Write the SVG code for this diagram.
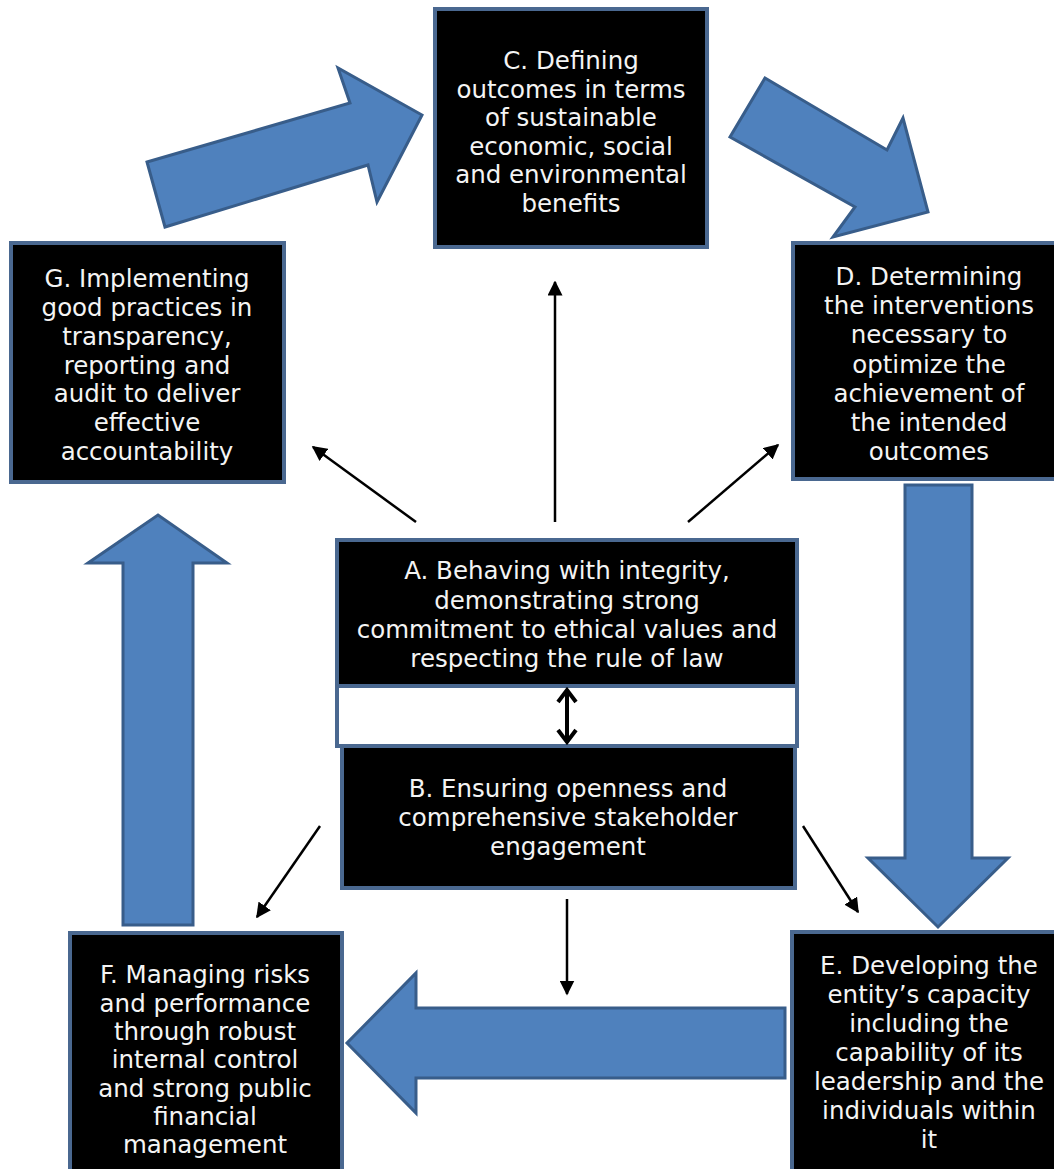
<svg xmlns="http://www.w3.org/2000/svg" width="1054" height="1169" viewBox="0 0 1054 1169">
<defs>
<style>
.box{fill:#000;stroke:#4a6890;stroke-width:4}
.gap{fill:#fff;stroke:#4a6890;stroke-width:4}
.big{fill:#4f81bd;stroke:#385d8a;stroke-width:3;stroke-linejoin:miter}
.lbl{font-family:"DejaVu Sans","Verdana",sans-serif;font-size:24.5px;fill:#f4f4f4;text-anchor:middle}
.thin{stroke:#000;stroke-width:2.5;fill:none}
</style>
<marker id="ah" viewBox="0 0 10 10" refX="9" refY="5" markerWidth="6" markerHeight="6" markerUnits="strokeWidth" orient="auto">
<path d="M0,0 L10,5 L0,10 z" fill="#000"/>
</marker>
</defs>
<rect width="1054" height="1169" fill="#fff"/>

<g id="cycle-arrows">
<polygon class="big" points="147,162 350,103 338,68 422,115 377,202 368,165 165,227"/>
<polygon class="big" points="765,78 887,150 903,118 928,212 833,237 855,207 730,137"/>
<polygon class="big" points="905,485 972,485 972,858 1008,858 938,927 868,858 905,858"/>
<polygon class="big" points="785,1008 416,1008 416,973 347,1043 416,1113 416,1078 785,1078"/>
<polygon class="big" points="123,925 123,563 88,563 158,515 227,563 193,563 193,925"/>
</g>

<g id="node-C">
<rect class="box" x="435" y="9" width="272" height="238"/>
<text class="lbl"><tspan x="571" y="69">C. Defining</tspan><tspan x="571" y="98">outcomes in terms</tspan><tspan x="571" y="126">of sustainable</tspan><tspan x="571" y="155">economic, social</tspan><tspan x="571" y="183">and environmental</tspan><tspan x="571" y="212">benefits</tspan></text>
</g>

<g id="node-G">
<rect class="box" x="11" y="243" width="273" height="239"/>
<text class="lbl"><tspan x="147" y="287">G. Implementing</tspan><tspan x="147" y="316">good practices in</tspan><tspan x="147" y="345">transparency,</tspan><tspan x="147" y="374">reporting and</tspan><tspan x="147" y="402">audit to deliver</tspan><tspan x="147" y="431">effective</tspan><tspan x="147" y="460">accountability</tspan></text>
</g>

<g id="node-D">
<rect class="box" x="793" y="243" width="280" height="236"/>
<text class="lbl"><tspan x="929" y="285">D. Determining</tspan><tspan x="929" y="314">the interventions</tspan><tspan x="929" y="343">necessary to</tspan><tspan x="929" y="373">optimize the</tspan><tspan x="929" y="402">achievement of</tspan><tspan x="929" y="431">the intended</tspan><tspan x="929" y="460">outcomes</tspan></text>
</g>

<g id="node-A">
<rect class="gap" x="337" y="540" width="460" height="206"/>
<rect class="box" x="337" y="540" width="460" height="146"/>
<text class="lbl"><tspan x="567" y="579">A. Behaving with integrity,</tspan><tspan x="567" y="609">demonstrating strong</tspan><tspan x="567" y="638">commitment to ethical values and</tspan><tspan x="567" y="667">respecting the rule of law</tspan></text>
</g>

<g id="node-B">
<rect class="box" x="342" y="746" width="453" height="142"/>
<text class="lbl"><tspan x="568" y="797">B. Ensuring openness and</tspan><tspan x="568" y="826">comprehensive stakeholder</tspan><tspan x="568" y="855">engagement</tspan></text>
</g>

<g id="node-F">
<rect class="box" x="70" y="933" width="272" height="250"/>
<text class="lbl"><tspan x="205" y="983">F. Managing risks</tspan><tspan x="205" y="1012">and performance</tspan><tspan x="205" y="1040">through robust</tspan><tspan x="205" y="1068">internal control</tspan><tspan x="205" y="1097">and strong public</tspan><tspan x="205" y="1125">financial</tspan><tspan x="205" y="1153">management</tspan></text>
</g>

<g id="node-E">
<rect class="box" x="792" y="932" width="280" height="250"/>
<text class="lbl"><tspan x="929" y="974">E. Developing the</tspan><tspan x="929" y="1003">entity’s capacity</tspan><tspan x="929" y="1032">including the</tspan><tspan x="929" y="1061">capability of its</tspan><tspan x="929" y="1090">leadership and the</tspan><tspan x="929" y="1119">individuals within</tspan><tspan x="929" y="1148">it</tspan></text>
</g>

<g id="connectors">
<line class="thin" x1="555" y1="522" x2="555" y2="282" marker-end="url(#ah)"/>
<line class="thin" x1="416" y1="522" x2="313" y2="447" marker-end="url(#ah)"/>
<line class="thin" x1="688" y1="522" x2="778" y2="445" marker-end="url(#ah)"/>
<line class="thin" x1="320" y1="826" x2="257" y2="917" marker-end="url(#ah)"/>
<line class="thin" x1="803" y1="826" x2="858" y2="912" marker-end="url(#ah)"/>
<line class="thin" x1="567" y1="899" x2="567" y2="994" marker-end="url(#ah)"/>
<path d="M567,692 L567,740 M558,702 L567,690 L576,702 M558,730 L567,742 L576,730" stroke="#000" stroke-width="4" fill="none" stroke-linejoin="miter"/>
</g>
</svg>
